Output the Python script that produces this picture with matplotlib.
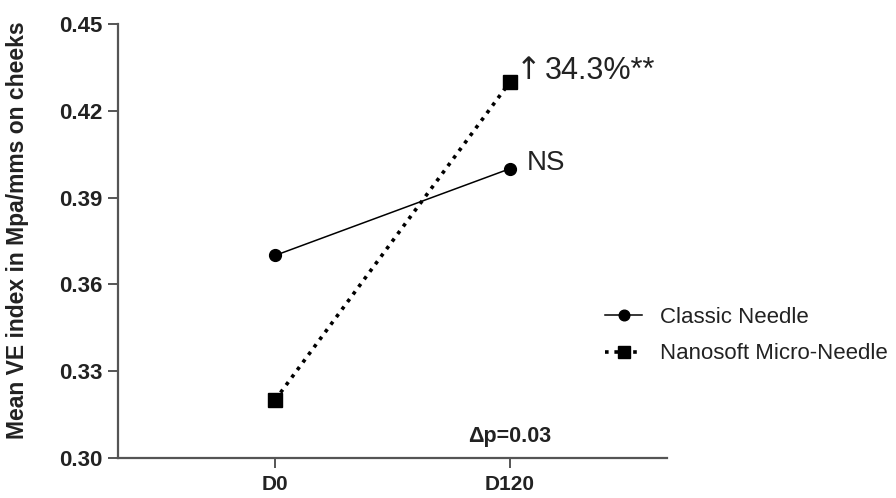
import matplotlib.pyplot as plt

plt.rcParams['font.family'] = ['Liberation Sans', 'DejaVu Sans']

days = ["D0", "D120"]
classic = [0.37, 0.40]
nanosoft = [0.32, 0.43]
yticks = [0.30, 0.33, 0.36, 0.39, 0.42, 0.45]

fig = plt.figure(figsize=(8.96, 4.98), dpi=100)
ax = fig.add_axes([0.1317, 0.0803, 0.6127, 0.8715])

x = list(range(len(days)))
ax.plot(x, classic, color="black", lw=1.1, marker="o", ms=8.5,
        label="Classic Needle")
ax.plot(x, nanosoft, color="black", lw=2.6, ls=(0, (1, 1.6)), marker="s", ms=10,
        label="Nanosoft Micro-Needle")

ax.set_xlim(-0.668, 1.668)
ax.set_ylim(0.30, 0.45)
ax.set_xticks(x)
ax.set_xticklabels(days)
ax.set_yticks(yticks)
ax.set_yticklabels([f"{v:.2f}" for v in yticks])

for s in ["top", "right"]:
    ax.spines[s].set_visible(False)
for s in ["left", "bottom"]:
    ax.spines[s].set_color("#555555")
    ax.spines[s].set_linewidth(1.6)
ax.tick_params(axis="both", colors="#555555", width=1.4, length=7,
               labelsize=16, labelcolor="#222222")
ax.tick_params(axis="x", pad=5, labelsize=15)
ax.tick_params(axis="y", pad=4)
for lab in ax.get_xticklabels() + ax.get_yticklabels():
    lab.set_fontweight("bold")

ax.set_ylabel("Mean VE index in Mpa/mms on cheeks", fontsize=16.5,
              fontweight="bold", color="#222222")
ax.yaxis.set_label_coords(-0.162, 0.525)

# annotations
ax.text(1.077, 0.4339, "\u2191", fontsize=22, color="#222222",
        ha="center", va="center", family=["DejaVu Sans"])
ax.text(1.149, 0.4339, "34.3%**", fontsize=22, color="#222222", va="center")
ax.text(1.07, 0.4020, "NS", fontsize=20, color="#222222", va="center")
ax.text(1.0, 0.3073, "\u0394p=0.03", fontsize=15.5, fontweight="bold",
        color="#222222", ha="center", va="center")

ax.legend(loc="center left", bbox_to_anchor=(0.887, 0.282), frameon=False,
          fontsize=16, handlelength=1.67, labelspacing=0.7, handletextpad=0.8,
          borderpad=0, borderaxespad=0, markerscale=0.9, labelcolor="#222222")

fig.savefig("out.png", dpi=100)
